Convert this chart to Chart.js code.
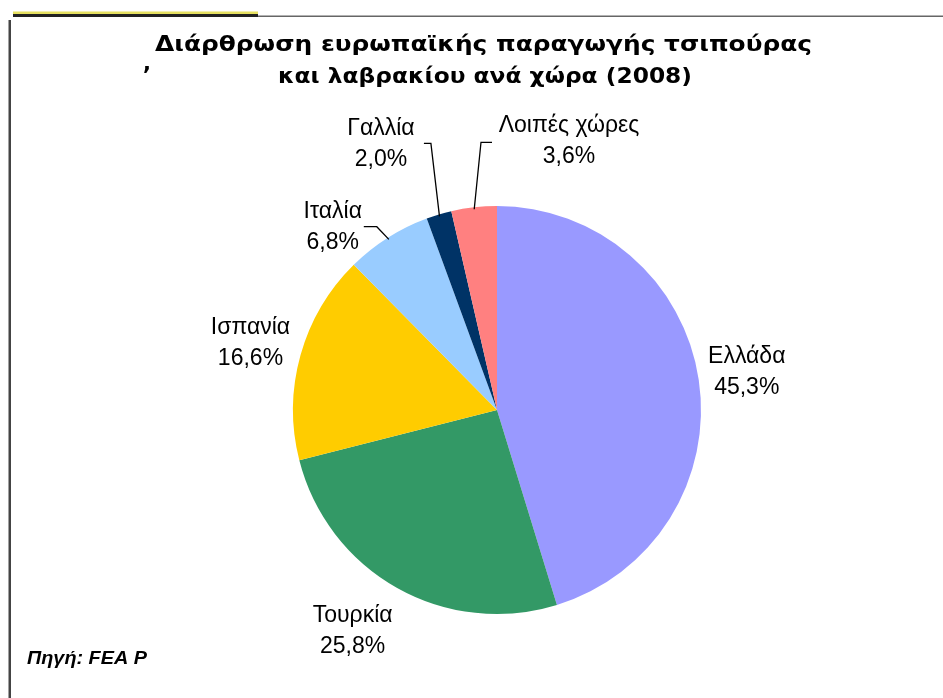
<!DOCTYPE html>
<html>
<head>
<meta charset="utf-8">
<script src="https://cdn.jsdelivr.net/npm/chart.js@4.4.1/dist/chart.umd.min.js"></script>
<style>
html,body{margin:0;padding:0;background:#fff;}
canvas{display:block;}
</style>
</head>
<body>
<canvas id="c" width="943" height="698"></canvas>
<script>
// ---- data ----
const categories = ["Ελλάδα", "Τουρκία", "Ισπανία", "Ιταλία", "Γαλλία", "Λοιπές χώρες"];
const shares = [45.3, 25.8, 16.6, 6.8, 2.0, 3.6];
const valueLabels = ["45,3%", "25,8%", "16,6%", "6,8%", "2,0%", "3,6%"];
const sliceColors = ["#9999FF", "#339966", "#FFCC00", "#99CCFF", "#003366", "#FF8080"];
const titleLines = ["Διάρθρωση ευρωπαϊκής παραγωγής τσιπούρας", "και λαβρακίου ανά χώρα (2008)"];
const sourceText = "Πηγή: FEA P";

// label placement (offset of label centre x / first baseline from slice edge point)
const labelOffsets = [[48,-17],[-44.5,34.5],[-50,-21],[-55,-20],[-58,-79],[95,-75]];
// leader lines: [elbow dx, elbow dy, horizontal length] relative to slice edge; null = none
const leaders = [null,null,null,[-11,-11,-13],[-8,-71,-7],[7,-65,11]];

const decorPlugin = {
  id: 'decor',
  beforeDraw(chart) {
    const ctx = chart.ctx;
    ctx.save();
    ctx.fillStyle = '#fff';
    ctx.fillRect(0,0,chart.width,chart.height);
    // top rule
    ctx.fillStyle = '#666';
    ctx.fillRect(258, 15.5, chart.width-258, 1.5);
    ctx.fillStyle = '#222';
    ctx.fillRect(13, 14, 245, 3);
    ctx.fillStyle = '#e6e060';
    ctx.fillRect(13, 11.5, 245, 2.5);
    // left rule
    ctx.fillStyle = '#444';
    ctx.fillRect(8.5, 20, 2.5, chart.height-20);
    ctx.restore();
  },
  afterDraw(chart) {
    const ctx = chart.ctx;
    ctx.save();
    // title (horizontally stretched to match the wide reference face)
    ctx.fillStyle = '#000';
    ctx.textAlign = 'center';
    ctx.textBaseline = 'alphabetic';
    ctx.font = 'bold 21px "DejaVu Sans"';
    const targets = [[483.5, 51, 657],[485, 83, 414]];
    titleLines.forEach((t,i)=>{
      const w = ctx.measureText(t).width;
      const sx = targets[i][2]/w;
      ctx.save();
      ctx.translate(targets[i][0], targets[i][1]);
      ctx.scale(sx, 1);
      ctx.fillText(t, 0, 0);
      ctx.restore();
    });
    ctx.fillText(',', 147, 70);
    // source
    ctx.textAlign = 'left';
    ctx.font = 'italic bold 19px "Liberation Sans"';
    const sw = ctx.measureText(sourceText).width;
    ctx.save();
    ctx.translate(27, 664);
    ctx.scale(120/sw, 1);
    ctx.fillText(sourceText, 0, 0);
    ctx.restore();

    // slice labels
    const meta = chart.getDatasetMeta(0);
    ctx.font = '23px "Liberation Sans"';
    ctx.textAlign = 'center';
    ctx.strokeStyle = '#000';
    ctx.lineWidth = 1.3;
    meta.data.forEach((arc,i)=>{
      const p = arc.getProps(['x','y','startAngle','endAngle','outerRadius'], true);
      const mid = (p.startAngle+p.endAngle)/2;
      const ex = p.x + Math.cos(mid)*p.outerRadius;
      const ey = p.y + Math.sin(mid)*p.outerRadius;
      const [dx,dy] = labelOffsets[i];
      ctx.fillStyle = '#000';
      ctx.fillText(categories[i], ex+dx, ey+dy);
      ctx.fillText(valueLabels[i], ex+dx, ey+dy+31);
      const L = leaders[i];
      if (L) {
        const sx = p.x + Math.cos(mid)*(p.outerRadius-2);
        const sy = p.y + Math.sin(mid)*(p.outerRadius-2);
        ctx.beginPath();
        ctx.moveTo(sx, sy);
        ctx.lineTo(ex+L[0], ey+L[1]);
        ctx.lineTo(ex+L[0]+L[2], ey+L[1]);
        ctx.stroke();
      }
    });
    ctx.restore();
  }
};

new Chart(document.getElementById('c'), {
  type: 'pie',
  data: {
    labels: categories,
    datasets: [{
      data: shares,
      backgroundColor: sliceColors,
      borderWidth: 0
    }]
  },
  options: {
    responsive: false,
    animation: false,
    layout: { padding: { left: 247, right: 196, top: 206, bottom: 84 } },
    plugins: { legend: { display: false }, tooltip: { enabled: false }, title: { display: false } }
  },
  plugins: [decorPlugin]
});
</script>
</body>
</html>
